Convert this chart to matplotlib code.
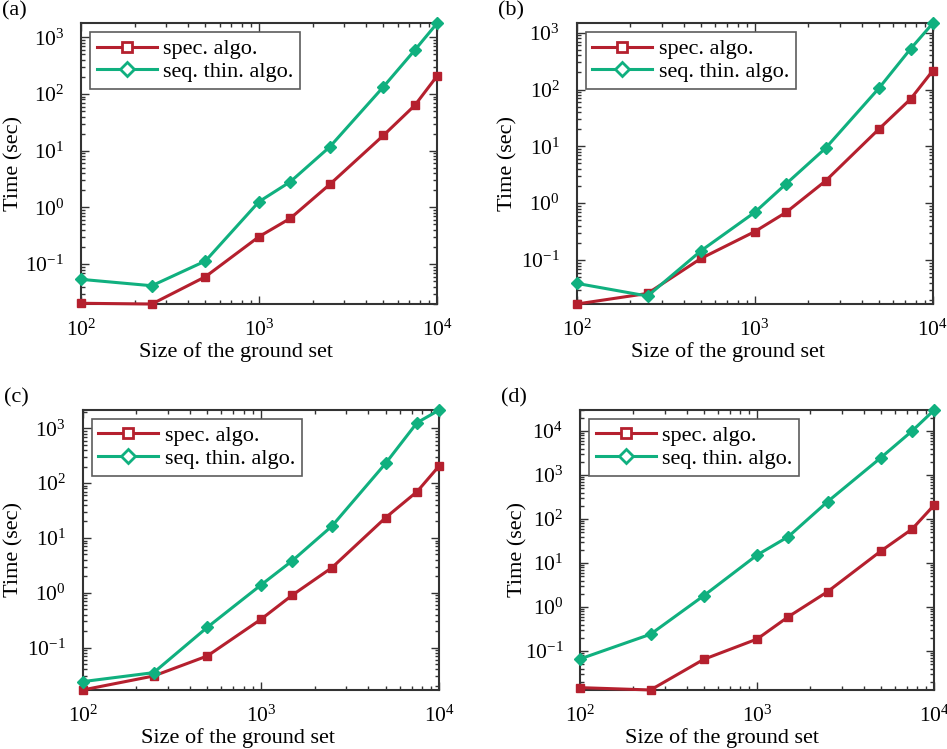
"""
Runtime comparison: spectral algorithm vs sequential thinning, four settings.
Output: out.png
"""

import numpy as np
import matplotlib
matplotlib.use("Agg")
import matplotlib.pyplot as plt
from matplotlib.lines import Line2D
from matplotlib.ticker import LogLocator, NullFormatter

plt.rcParams["font.family"] = ["Liberation Serif", "DejaVu Serif"]
plt.rcParams["mathtext.fontset"] = "stix"

# ── data ──────────────────────────────────────────────────────────────────────
sizes = [100, 250, 500, 1000, 1500, 2500, 5000, 7500, 10000]

spec_a = [0.0203, 0.0197, 0.0597, 0.304, 0.64, 2.55, 18.6, 63, 207]
thin_a = [0.0537, 0.0414, 0.113, 1.26, 2.83, 11.7, 134, 594, 1766]

spec_b = [0.0168, 0.0258, 0.107, 0.316, 0.69, 2.47, 20.4, 68, 215]
thin_b = [0.0388, 0.0232, 0.146, 0.69, 2.19, 9.3, 107, 520, 1466]

spec_c = [0.0169, 0.0304, 0.0705, 0.329, 0.91, 2.88, 23.5, 70, 208]
thin_c = [0.024, 0.035, 0.235, 1.39, 3.86, 16.5, 230, 1268, 2160]

spec_d = [0.0147, 0.013, 0.0647, 0.187, 0.60, 2.23, 18.7, 59, 208]
thin_d = [0.066, 0.24, 1.81, 15.2, 39.7, 248, 2477, 10000, 30000]

panels = ["(a)", "(b)", "(c)", "(d)"]
spec_all = [spec_a, spec_b, spec_c, spec_d]
thin_all = [thin_a, thin_b, thin_c, thin_d]

RED   = "#B5202E"
GREEN = "#10B07F"
EDGE  = "#333333"

# axes boxes in figure fractions [left, bottom, width, height]
boxes = [
    [0.0855, 0.5941, 0.3760, 0.3748],
    [0.6090, 0.5941, 0.3760, 0.3748],
    [0.0873, 0.0788, 0.3766, 0.3738],
    [0.6125, 0.0788, 0.3740, 0.3738],
]
# label positions (axes fractions) - the original has them a bit off-centre
xlabel_x = [0.435, 0.425, 0.435, 0.40]
ylabel_x = [-0.162, -0.167, -0.167, -0.147]

fig = plt.figure(figsize=(9.47, 7.49), dpi=100)

for i, (box, tag, spec, thin) in enumerate(zip(boxes, panels, spec_all, thin_all)):
    ax = fig.add_axes(box)
    ax.plot(sizes, spec, color=RED, lw=2.2, marker="s", ms=6,
            mfc=RED, mec=RED, clip_on=False, zorder=3)
    ax.plot(sizes, thin, color=GREEN, lw=2.2, marker="D", ms=6,
            mfc=GREEN, mec=GREEN, clip_on=False, zorder=3)
    ax.set_xscale("log")
    ax.set_yscale("log")
    ax.set_xlim(min(sizes), max(sizes))
    ax.set_ylim(min(min(spec), min(thin)), max(max(spec), max(thin)))

    ax.yaxis.set_major_locator(LogLocator(base=10, numticks=20))
    ax.yaxis.set_minor_locator(LogLocator(base=10, subs=np.arange(2, 10), numticks=20))
    ax.yaxis.set_minor_formatter(NullFormatter())
    ax.xaxis.set_minor_locator(LogLocator(base=10, subs=np.arange(2, 10), numticks=20))
    ax.xaxis.set_minor_formatter(NullFormatter())

    ax.tick_params(which="both", direction="in", top=True, right=True,
                   colors=EDGE, labelcolor="black", labelsize=15.5, width=1)
    ax.tick_params(which="major", length=5.5)
    ax.tick_params(which="minor", length=3)
    ax.tick_params(axis="x", which="both", pad=11.5)
    ax.tick_params(axis="y", which="both", pad=12)
    for sp in ax.spines.values():
        sp.set_color(EDGE)
        sp.set_linewidth(1.5)

    ax.set_xlabel("Size of the ground set", fontsize=16)
    ax.set_ylabel("Time (sec)", fontsize=16)
    ax.xaxis.set_label_coords(xlabel_x[i], -0.137, transform=ax.transAxes)
    ax.xaxis.label.set_va("top")
    ax.yaxis.set_label_coords(ylabel_x[i], 0.5, transform=ax.transAxes)

    handles = [
        Line2D([], [], color=RED, lw=2.2, marker="s", ms=7, mfc="white",
               mec=RED, mew=2),
        Line2D([], [], color=GREEN, lw=2.2, marker="D", ms=7, mfc="white",
               mec=GREEN, mew=2),
    ]
    leg = ax.legend(handles, ["spec. algo.", "seq. thin. algo."],
                    loc="upper left", fontsize=16, frameon=True, fancybox=False,
                    handlelength=2.7, borderpad=0.3, labelspacing=0.1,
                    handletextpad=0.3, borderaxespad=0.4)
    leg.get_frame().set_edgecolor(EDGE)
    leg.get_frame().set_linewidth(1.2)

    pos = ax.get_position()
    fig.text(pos.x0 - 0.083, pos.y1 + 0.004, tag, fontsize=16, va="bottom",
             ha="left")

fig.savefig("out.png", dpi=100)
